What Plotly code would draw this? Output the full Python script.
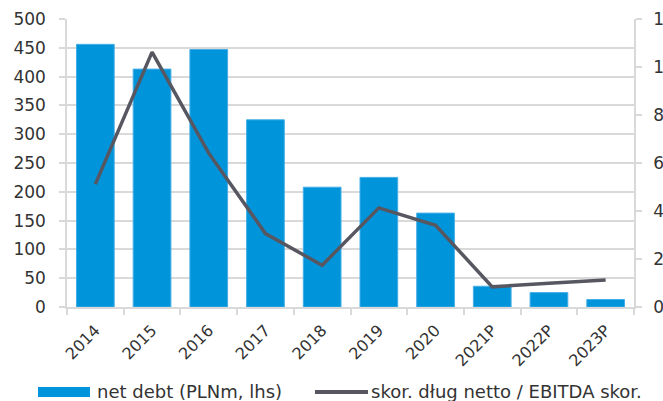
import plotly.graph_objects as go

categories = ["2014", "2015", "2016", "2017", "2018", "2019", "2020", "2021P", "2022P", "2023P"]
net_debt = [456, 413, 447, 325, 208, 225, 163, 36, 25, 13]
ratio = [5.12, 10.62, 6.41, 3.06, 1.74, 4.13, 3.40, 0.84, 0.99, 1.13]
left_ticks = list(range(0, 501, 50))
right_ticks = list(range(0, 13, 2))

BAR = "#0094DB"
LINE = "#575761"
GRID = "#d9d9d9"
TXT = "#333333"
FONT = "DejaVu Sans"

W, H = 663, 401
ML, MR, MT, MB = 67, 29, 19, 94
PW, PH = W - ML - MR, H - MT - MB


def px_x(px):
    return (px - ML) / PW


def px_y(py):
    return (H - MB - py) / PH


fig = go.Figure()
fig.add_trace(go.Bar(
    x=categories, y=net_debt, name="net debt (PLNm, lhs)",
    marker=dict(color=BAR, line=dict(color="#45aee6", width=1)),
    yaxis="y", showlegend=False,
))
fig.add_trace(go.Scatter(
    x=categories, y=ratio, name="skor. dług netto / EBITDA skor.",
    mode="lines", line=dict(color=LINE, width=3.5),
    yaxis="y2", showlegend=False,
))

fig.update_layout(
    width=W, height=H,
    margin=dict(l=ML, r=MR, t=MT, b=MB, pad=0),
    paper_bgcolor="white", plot_bgcolor="white",
    bargap=0.335,
    font=dict(family=FONT, size=17, color=TXT),
    xaxis=dict(
        type="category", tickangle=-45, tickson="boundaries",
        ticks="outside", ticklen=6, tickcolor=GRID, tickwidth=1.5,
        showgrid=False, showline=True, linecolor=GRID, linewidth=1.5,
        tickfont=dict(size=16, color=TXT), ticklabelstandoff=6, automargin=False,
    ),
    yaxis=dict(
        range=[0, 500], tickvals=left_ticks, showgrid=True, gridcolor=GRID, gridwidth=1.5,
        ticks="outside", ticklen=6, tickcolor=GRID, tickwidth=1.5,
        showline=True, linecolor=GRID, linewidth=1.5, zeroline=False,
        tickfont=dict(size=17, color=TXT),
        ticklabelstandoff=10, automargin=False,
    ),
    yaxis2=dict(
        range=[0, 12], tickvals=right_ticks, overlaying="y", side="right",
        showgrid=False, ticks="outside", ticklen=6, tickcolor=GRID, tickwidth=1.5,
        showline=True, linecolor=GRID, linewidth=1.5, zeroline=False,
        tickfont=dict(size=17, color=TXT),
        ticklabelstandoff=8, automargin=False,
    ),
    shapes=[
        dict(type="rect", xref="paper", yref="paper",
             x0=px_x(38), x1=px_x(90), y0=px_y(397), y1=px_y(387),
             fillcolor=BAR, line=dict(width=0)),
        dict(type="line", xref="paper", yref="paper",
             x0=px_x(315), x1=px_x(368), y0=px_y(392), y1=px_y(392),
             line=dict(color=LINE, width=4)),
    ],
    annotations=[
        dict(text="net debt (PLNm, lhs)", xref="paper", yref="paper",
             x=px_x(95), y=px_y(391), xanchor="left", yanchor="middle",
             showarrow=False, font=dict(size=18, color=TXT)),
        dict(text="skor. dług netto / EBITDA skor.", xref="paper", yref="paper",
             x=px_x(369), y=px_y(391), xanchor="left", yanchor="middle",
             showarrow=False, font=dict(size=18, color=TXT)),
    ],
)

fig.write_html("out.html")
